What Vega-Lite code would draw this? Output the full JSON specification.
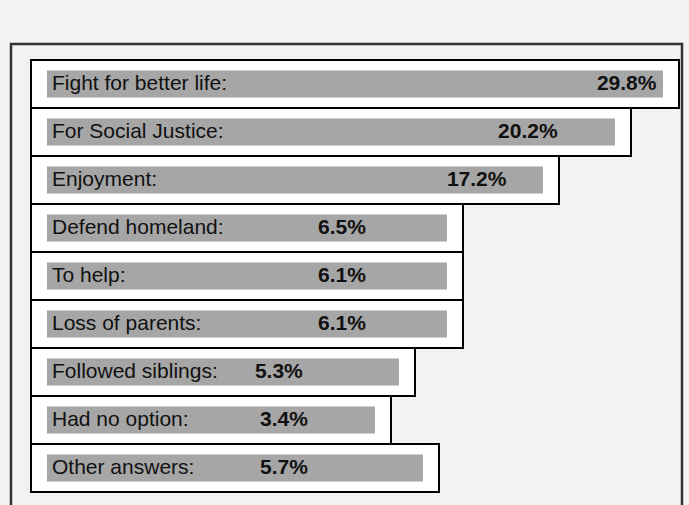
{
  "$schema": "https://vega.github.io/schema/vega-lite/v6.json",
  "width": 671,
  "height": 464,
  "autosize": {"type": "none"},
  "padding": {"left": 11, "top": 44, "right": 7, "bottom": -3},
  "background": "#f2f2f2",
  "config": {
    "view": {"stroke": "#333333", "strokeWidth": 2.5, "fill": "#f2f2f2"},
    "font": "Liberation Sans"
  },
  "data": {
    "values": [
      {"answer": "Fight for better life", "label": "Fight for better life:", "share": 0.298, "len": 27, "valuePos": 23.58},
      {"answer": "For Social Justice", "label": "For Social Justice:", "share": 0.202, "len": 25, "valuePos": 19.46},
      {"answer": "Enjoyment", "label": "Enjoyment:", "share": 0.172, "len": 22, "valuePos": 17.33},
      {"answer": "Defend homeland", "label": "Defend homeland:", "share": 0.065, "len": 18, "valuePos": 11.96},
      {"answer": "To help", "label": "To help:", "share": 0.061, "len": 18, "valuePos": 11.96},
      {"answer": "Loss of parents", "label": "Loss of parents:", "share": 0.061, "len": 18, "valuePos": 11.96},
      {"answer": "Followed siblings", "label": "Followed siblings:", "share": 0.053, "len": 16, "valuePos": 9.33},
      {"answer": "Had no option", "label": "Had no option:", "share": 0.034, "len": 15, "valuePos": 9.54},
      {"answer": "Other answers", "label": "Other answers:", "share": 0.057, "len": 17, "valuePos": 9.54}
    ]
  },
  "encoding": {
    "y": {
      "field": "answer",
      "type": "nominal",
      "sort": null,
      "scale": {"paddingInner": 0, "paddingOuter": 0.3333, "align": 0.5},
      "axis": null
    }
  },
  "layer": [
    {
      "mark": {"type": "bar", "fill": "white", "stroke": "black", "strokeWidth": 2, "height": {"band": 1}},
      "encoding": {
        "x": {"field": "len", "type": "quantitative", "scale": {"domain": [-0.8333, 27.125], "nice": false, "zero": false}, "axis": null},
        "x2": {"datum": 0}
      }
    },
    {
      "mark": {"type": "bar", "fill": "#a6a6a6", "height": {"band": 0.5625}, "xOffset": -16, "x2Offset": 16},
      "encoding": {
        "x": {"field": "len", "type": "quantitative"},
        "x2": {"datum": 0}
      }
    },
    {
      "mark": {"type": "text", "align": "left", "baseline": "middle", "fontSize": 21, "xOffset": 21, "color": "#111111"},
      "encoding": {
        "x": {"datum": 0, "type": "quantitative"},
        "text": {"field": "label"}
      }
    },
    {
      "mark": {"type": "text", "align": "left", "baseline": "middle", "fontSize": 21, "fontWeight": "bold", "color": "#111111"},
      "encoding": {
        "x": {"field": "valuePos", "type": "quantitative"},
        "text": {"field": "share", "format": ".1%"}
      }
    }
  ]
}
